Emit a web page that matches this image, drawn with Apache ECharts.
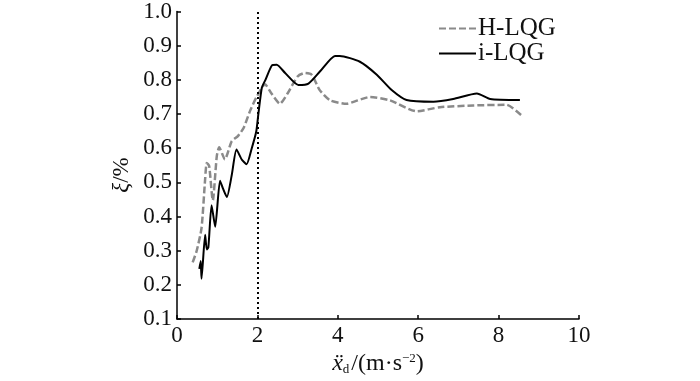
<!DOCTYPE html>
<html>
<head>
<meta charset="utf-8">
<script src="https://cdn.jsdelivr.net/npm/echarts@6/dist/echarts.min.js"></script>
<style>html,body{margin:0;padding:0;background:#fff;}#c{width:700px;height:381px;}</style>
</head>
<body>
<div id="c"></div>
<script>
var seriesNames = ['H-LQG', 'i-LQG'];
var xTicks = [0, 2, 4, 6, 8, 10];
var yTicks = [0.1, 0.2, 0.3, 0.4, 0.5, 0.6, 0.7, 0.8, 0.9, 1.0];
var dashedLineX = 2;

var hX = [0.39, 0.49, 0.61, 0.70, 0.74, 0.80, 0.89, 0.99, 1.05, 1.19, 1.36, 1.52, 1.66, 1.82, 1.98, 2.19, 2.35, 2.56, 2.75, 3.0, 3.18, 3.35, 3.55, 3.81, 4.22, 4.5, 4.8, 5.3, 5.96, 6.54, 7.37, 8.2, 8.57];
var hY = [0.266, 0.30, 0.366, 0.51, 0.557, 0.548, 0.447, 0.577, 0.603, 0.567, 0.62, 0.636, 0.66, 0.71, 0.75, 0.787, 0.76, 0.73, 0.76, 0.81, 0.82, 0.815, 0.77, 0.74, 0.73, 0.74, 0.75, 0.74, 0.708, 0.72, 0.725, 0.727, 0.696];

var iX = [0.555, 0.59, 0.61, 0.70, 0.74, 0.78, 0.86, 0.95, 1.07, 1.15, 1.24, 1.36, 1.48, 1.61, 1.73, 1.86, 1.97, 2.02, 2.11, 2.20, 2.36, 2.48, 2.69, 3.02, 3.27, 3.56, 3.93, 4.05, 4.55, 4.97, 5.34, 5.71, 6.38, 6.87, 7.46, 7.79, 8.53];
var iY = [0.247, 0.27, 0.218, 0.347, 0.304, 0.31, 0.433, 0.37, 0.505, 0.48, 0.457, 0.52, 0.596, 0.567, 0.553, 0.60, 0.648, 0.696, 0.777, 0.80, 0.842, 0.844, 0.82, 0.785, 0.789, 0.825, 0.87, 0.87, 0.853, 0.815, 0.77, 0.741, 0.736, 0.744, 0.76, 0.744, 0.741];

function zip(a, b) { return a.map(function (v, i) { return [v, b[i]]; }); }

var FONT = '"Liberation Serif", "Times New Roman", Times, serif';
var chart = echarts.init(document.getElementById('c'));
chart.setOption({
  animation: false,
  backgroundColor: '#fff',
  grid: { left: 177, right: 121, top: 9, bottom: 58 },
  legend: {
    orient: 'vertical', left: 433, top: 11,
    itemWidth: 37, itemHeight: 14, itemGap: 0,
    itemStyle: { opacity: 0 },
    textStyle: { fontFamily: FONT, fontSize: 25, color: '#111', lineHeight: 22, padding: [0,0,0,-3] },
    data: seriesNames
  },
  xAxis: {
    type: 'value', min: xTicks[0], max: xTicks[xTicks.length - 1], interval: 2,
    axisLine: { onZero: false, lineStyle: { color: '#000', width: 1.5 } },
    axisTick: { inside: true, length: 4, lineStyle: { color: '#000', width: 1.5 } },
    axisLabel: { color: '#111', fontFamily: FONT, fontSize: 23, margin: 5 },
    splitLine: { show: false },
    name: '{x|ẍ}{sub|d}{n|/(m·s}{sup|−2}{n|)}',
    nameLocation: 'middle', nameGap: 14,
    nameTextStyle: {
      fontFamily: FONT, fontSize: 23, color: '#111',
      rich: {
        x: { fontFamily: FONT, fontSize: 24, fontStyle: 'italic', color: '#111', lineHeight: 24 },
        n: { fontFamily: FONT, fontSize: 24, color: '#111', lineHeight: 24 },
        sub: { fontFamily: FONT, fontSize: 13, color: '#111', verticalAlign: 'bottom', lineHeight: 24, padding: [0, 2, 0, 0] },
        sup: { fontFamily: FONT, fontSize: 13, color: '#111', verticalAlign: 'top', lineHeight: 24 }
      }
    }
  },
  yAxis: {
    type: 'value', min: yTicks[0], max: yTicks[yTicks.length - 1], interval: 0.1,
    axisLine: { onZero: false, lineStyle: { color: '#000', width: 1.5 } },
    axisTick: { inside: true, length: 4, lineStyle: { color: '#000', width: 1.5 } },
    axisLabel: { color: '#111', fontFamily: FONT, fontSize: 23, margin: 5,
      formatter: function (v) { return v.toFixed(1); } },
    splitLine: { show: false }
  },
  graphic: [{
    type: 'text', x: 122, y: 175, rotation: Math.PI / 2, originX: 0, originY: 0,
    style: {
      text: '{g|ξ}{n|/%}', align: 'center', verticalAlign: 'middle',
      rich: {
        g: { fontFamily: FONT, fontSize: 23, fontStyle: 'italic', fill: '#111' },
        n: { fontFamily: FONT, fontSize: 23, fill: '#111' }
      }
    }
  }],
  series: [
    {
      name: seriesNames[0], type: 'line', data: zip(hX, hY), smooth: 0.2,
      showSymbol: false, symbol: 'none',
      lineStyle: { color: '#8a8a8a', width: 2.5, type: [7, 3] },
      itemStyle: { color: '#8a8a8a' },
      z: 2
    },
    {
      name: seriesNames[1], type: 'line', data: zip(iX, iY), smooth: 0.2,
      showSymbol: false, symbol: 'none',
      lineStyle: { color: '#000', width: 2 },
      itemStyle: { color: '#000' },
      z: 3,
      markLine: {
        silent: true, symbol: 'none', label: { show: false },
        lineStyle: { color: '#000', width: 2, type: [2, 3] },
        data: [{ xAxis: dashedLineX }]
      }
    }
  ]
});
</script>
</body>
</html>
